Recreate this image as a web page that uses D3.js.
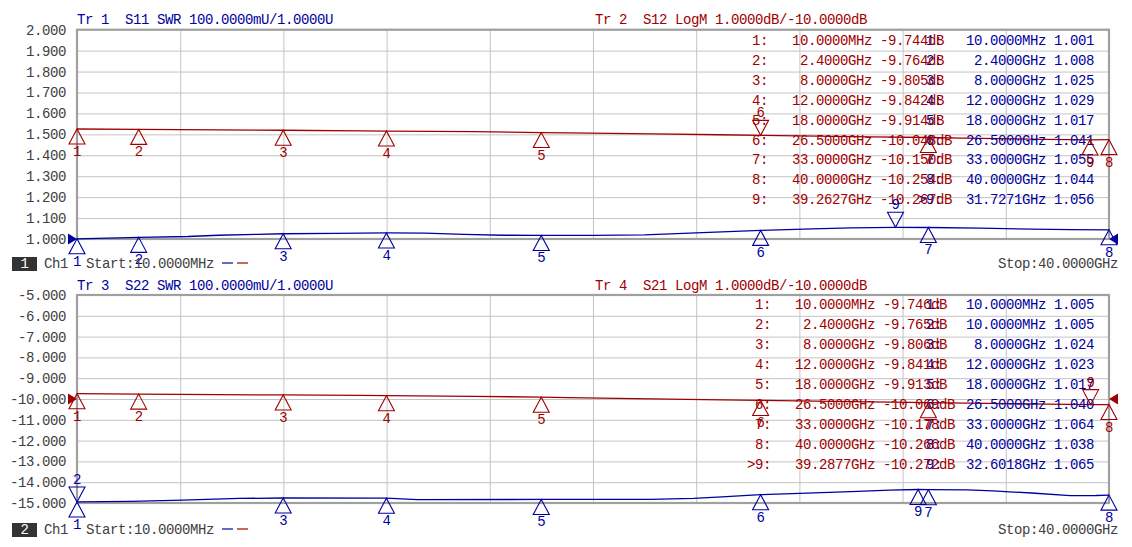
<!DOCTYPE html>
<html><head><meta charset="utf-8">
<script src="https://cdn.jsdelivr.net/npm/d3@7"></script>
<style>
html,body{margin:0;padding:0;background:#fff;}
svg{display:block;}
text{font-family:"Liberation Mono","DejaVu Sans Mono",monospace;font-size:14px;letter-spacing:-0.4px;white-space:pre;}
</style></head><body>
<svg id="c" width="1132" height="547"></svg>
<script>
// ---------- DATA ----------
const startGHz = 0.01, stopGHz = 40;
const swrTicks = [2.0, 1.9, 1.8, 1.7, 1.6, 1.5, 1.4, 1.3, 1.2, 1.1, 1.0];
const dbTicks = [-5, -6, -7, -8, -9, -10, -11, -12, -13, -14, -15];

const titleTr1 = "Tr 1  S11 SWR 100.0000mU/1.0000U";
const titleTr2 = "Tr 2  S12 LogM 1.0000dB/-10.0000dB";
const titleTr3 = "Tr 3  S22 SWR 100.0000mU/1.0000U";
const titleTr4 = "Tr 4  S21 LogM 1.0000dB/-10.0000dB";
const startLabel = "Start:10.0000MHz";
const stopLabel = "Stop:40.0000GHz";

// marker tables
const mkFreqS12 = [0.01, 2.4, 8, 12, 18, 26.5, 33, 40, 39.2627];
const mkValS12  = [-9.744, -9.764, -9.805, -9.842, -9.914, -10.048, -10.150, -10.254, -10.267];
const mkAboveS12 = [0,0,0,0,0,1,0,0,0];
const mkFreqS11 = [0.01, 2.4, 8, 12, 18, 26.5, 33, 40, 31.7271];
const mkValS11  = [1.001, 1.008, 1.025, 1.029, 1.017, 1.041, 1.055, 1.044, 1.056];
const mkAboveS11 = [0,0,0,0,0,0,0,0,1];
const mkFreqS21 = [0.01, 2.4, 8, 12, 18, 26.5, 33, 40, 39.2877];
const mkValS21  = [-9.746, -9.765, -9.806, -9.841, -9.913, -10.069, -10.178, -10.266, -10.272];
const mkAboveS21 = [0,0,0,0,0,0,0,0,1];
const mkFreqS22 = [0.01, 0.01, 8, 12, 18, 26.5, 33, 40, 32.6018];
const mkValS22  = [1.005, 1.005, 1.024, 1.023, 1.017, 1.040, 1.064, 1.038, 1.065];
const mkAboveS22 = [0,1,0,0,0,0,0,0,0];

// traces
const trFreqS12 = [0.01, 2.4, 5.5, 8, 11.0, 12, 15.4, 18, 19.0, 22.3, 24.9, 26.5, 30.8, 33, 34.3, 37.5, 39.26, 40];
const trValS12  = [-9.744, -9.764, -9.79, -9.805, -9.83, -9.842, -9.87, -9.914, -9.93, -9.98, -10.02, -10.048, -10.12, -10.150, -10.18, -10.24, -10.267, -10.254];
const trFreqS11 = [0.01, 2.4, 4.3, 5.5, 7.0, 8, 10, 12, 13.5, 15.0, 16.5, 18, 20, 22, 23.5, 25, 26.5, 28.5, 30, 31.73, 33, 35, 37, 38.5, 40];
const trValS11  = [1.001, 1.008, 1.012, 1.018, 1.022, 1.025, 1.027, 1.029, 1.028, 1.022, 1.018, 1.017, 1.017, 1.020, 1.027, 1.034, 1.041, 1.048, 1.053, 1.056, 1.055, 1.052, 1.047, 1.045, 1.044];
const trFreqS21 = [0.01, 2.4, 5.5, 8, 11.0, 12, 15.4, 18, 19.0, 22.3, 25.0, 26.5, 30, 33, 36, 37.6, 39.29, 40];
const trValS21  = [-9.746, -9.765, -9.79, -9.806, -9.83, -9.841, -9.87, -9.913, -9.93, -9.99, -10.04, -10.069, -10.13, -10.178, -10.22, -10.25, -10.272, -10.266];
const trFreqS22 = [0.01, 2.1, 4.1, 6.3, 8, 12, 13.2, 18, 22.2, 23.9, 25.0, 26.5, 28.0, 30.0, 31.5, 32.6, 33, 34.5, 35.5, 37.0, 38.5, 39.5, 40];
const trValS22  = [1.005, 1.008, 1.014, 1.022, 1.024, 1.023, 1.016, 1.017, 1.017, 1.022, 1.029, 1.040, 1.046, 1.055, 1.062, 1.065, 1.064, 1.063, 1.058, 1.048, 1.035, 1.036, 1.038];

// ---------- STYLE / LAYOUT ----------
const BLUE = "#0000a0", RED = "#a00000", GRID = "#c4c4c4", FRAME = "#a0a0a0", TXT = "#404040";
const X0 = 77, X1 = 1109;
const svg = d3.select("#c");
const x = d3.scaleLinear().domain([startGHz, stopGHz]).range([X0, X1]);

function fmtFreq(f) {
  return f < 1 ? (f * 1000).toFixed(4) + "MHz" : f.toFixed(4) + "GHz";
}

function drawPanel(p) {
  const g = svg.append("g");
  const yAxisScale = p.axisScale;
  // grid horizontal
  g.append("g").attr("transform", `translate(${X0},0)`)
    .call(d3.axisLeft(yAxisScale).tickValues(p.ticks).tickSize(-(X1 - X0)).tickFormat(""))
    .call(s => s.select(".domain").remove())
    .call(s => s.selectAll("line").attr("stroke", GRID).attr("stroke-width", 1));
  // grid vertical
  const divs = d3.range(11).map(i => startGHz + i * (stopGHz - startGHz) / 10);
  g.append("g").attr("transform", `translate(0,${p.y1})`)
    .call(d3.axisBottom(x).tickValues(divs).tickSize(-(p.y1 - p.y0)).tickFormat(""))
    .call(s => s.select(".domain").remove())
    .call(s => s.selectAll("line").attr("stroke", GRID).attr("stroke-width", 1));
  // tick labels
  g.append("g").attr("transform", `translate(${X0},0)`)
    .call(d3.axisLeft(yAxisScale).tickValues(p.ticks).tickSize(0).tickPadding(11).tickFormat(d => d.toFixed(3)))
    .call(s => s.select(".domain").remove())
    .call(s => s.selectAll("text").attr("fill", TXT).style("font-family", '"Liberation Mono","DejaVu Sans Mono",monospace').style("font-size", "14px"));
  // frame
  g.append("rect").attr("x", X0).attr("y", p.y0).attr("width", X1 - X0).attr("height", p.y1 - p.y0)
    .attr("fill", "none").attr("stroke", FRAME).attr("stroke-width", 2.2);

  // titles
  g.append("text").attr("x", X0).attr("y", p.titleY).attr("dominant-baseline", "central").attr("fill", BLUE).text(p.blueTitle);
  g.append("text").attr("x", 595).attr("y", p.titleY).attr("dominant-baseline", "central").attr("fill", RED).text(p.redTitle);

  // traces
  const line = (sc) => d3.line().x(d => x(d[0])).y(d => sc(d[1]));
  g.append("path").datum(d3.zip(p.red.trF, p.red.trV)).attr("d", line(p.red.scale))
    .attr("fill", "none").attr("stroke", RED).attr("stroke-width", 1.3);
  g.append("path").datum(d3.zip(p.blue.trF, p.blue.trV)).attr("d", line(p.blue.scale))
    .attr("fill", "none").attr("stroke", BLUE).attr("stroke-width", 1.3);

  // reference arrows
  const ra = p.refArrow;
  const ry = ra.scale(ra.value);
  g.append("path").attr("d", `M${X0 - 9},${ry - 5.5}L${X0},${ry}L${X0 - 9},${ry + 5.5}Z`).attr("fill", ra.color);
  g.append("path").attr("d", `M${X1 + 9},${ry - 5.5}L${X1},${ry}L${X1 + 9},${ry + 5.5}Z`).attr("fill", ra.color);

  // tables
  function table(t, color, xs, active) {
    t.mkF.forEach((f, i) => {
      const val = color === RED ? t.mkV[i].toFixed(3) + "dB" : t.mkV[i].toFixed(3);
      const s = `${i + 1}:   ` + fmtFreq(f).padStart(10, " ") + " " + val;
      const yy = p.rowY0 + i * p.rowStep;
      g.append("text").attr("x", xs).attr("y", yy).attr("dominant-baseline", "central").attr("fill", color).text(s);
      if (active === i) g.append("text").attr("x", xs - 8).attr("y", yy).attr("dominant-baseline", "central").attr("fill", color).text(">");
    });
  }
  table(p.blue, BLUE, 926, p.blue.active);
  table(p.red, RED, p.redTableX, p.red.active);

  // markers
  function markers(t, color) {
    t.mkF.forEach((f, i) => {
      const mx = x(f), my = t.scale(t.mkV[i]);
      const up = t.mkAbove[i] === 1;
      const d = up ? `M${mx},${my}L${mx - 8},${my - 15}L${mx + 8},${my - 15}Z`
                   : `M${mx},${my}L${mx - 8},${my + 15}L${mx + 8},${my + 15}Z`;
      g.append("path").attr("d", d).attr("fill", "none").attr("stroke", color).attr("stroke-width", 1.1);
      g.append("text").attr("x", mx).attr("y", up ? my - 22 : my + 23).attr("text-anchor", "middle")
        .attr("dominant-baseline", "central").attr("fill", color).text(String(i + 1));
    });
  }
  markers(p.red, RED);
  markers(p.blue, BLUE);

  // status row
  const sy = p.statusY;
  g.append("rect").attr("x", 12).attr("y", sy - 7).attr("width", 25).attr("height", 14).attr("fill", "#333");
  g.append("text").attr("x", 24.5).attr("y", sy).attr("text-anchor", "middle").attr("dominant-baseline", "central").attr("fill", "#fff").text(p.num);
  g.append("text").attr("x", 44).attr("y", sy).attr("dominant-baseline", "central").attr("fill", TXT).text("Ch1");
  g.append("text").attr("x", 86).attr("y", sy).attr("dominant-baseline", "central").attr("fill", TXT).text(startLabel);
  g.append("line").attr("x1", 222).attr("x2", 233).attr("y1", sy - 1).attr("y2", sy - 1).attr("stroke", BLUE).attr("stroke-width", 1.2);
  g.append("line").attr("x1", 237).attr("x2", 248).attr("y1", sy - 1).attr("y2", sy - 1).attr("stroke", RED).attr("stroke-width", 1.2);
  g.append("text").attr("x", 1118).attr("y", sy).attr("text-anchor", "end").attr("dominant-baseline", "central").attr("fill", TXT).text(stopLabel);
}

// top panel
const tY0 = 29.7, tY1 = 239;
const ySwrTop = d3.scaleLinear().domain([1, 2]).range([tY1, tY0]);
const yDbTop = d3.scaleLinear().domain([-15, -5]).range([tY1, tY0]);
drawPanel({
  y0: tY0, y1: tY1, ticks: swrTicks, axisScale: ySwrTop, titleY: 20,
  blueTitle: titleTr1, redTitle: titleTr2,
  red: { scale: yDbTop, trF: trFreqS12, trV: trValS12, mkF: mkFreqS12, mkV: mkValS12, mkAbove: mkAboveS12, active: -1 },
  blue: { scale: ySwrTop, trF: trFreqS11, trV: trValS11, mkF: mkFreqS11, mkV: mkValS11, mkAbove: mkAboveS11, active: 8 },
  refArrow: { scale: ySwrTop, value: 1.0, color: BLUE },
  rowY0: 41, rowStep: 19.9, redTableX: 752, statusY: 264, num: "1"
});

// bottom panel
const bY0 = 295, bY1 = 503;
const yDbBot = d3.scaleLinear().domain([-15, -5]).range([bY1, bY0]);
const ySwrBot = d3.scaleLinear().domain([1, 2]).range([bY1, bY0]);
drawPanel({
  y0: bY0, y1: bY1, ticks: dbTicks, axisScale: yDbBot, titleY: 285.5,
  blueTitle: titleTr3, redTitle: titleTr4,
  red: { scale: yDbBot, trF: trFreqS21, trV: trValS21, mkF: mkFreqS21, mkV: mkValS21, mkAbove: mkAboveS21, active: 8 },
  blue: { scale: ySwrBot, trF: trFreqS22, trV: trValS22, mkF: mkFreqS22, mkV: mkValS22, mkAbove: mkAboveS22, active: -1 },
  refArrow: { scale: yDbBot, value: -10, color: RED },
  rowY0: 304.5, rowStep: 20, redTableX: 755, statusY: 530, num: "2"
});
</script>
</body></html>
